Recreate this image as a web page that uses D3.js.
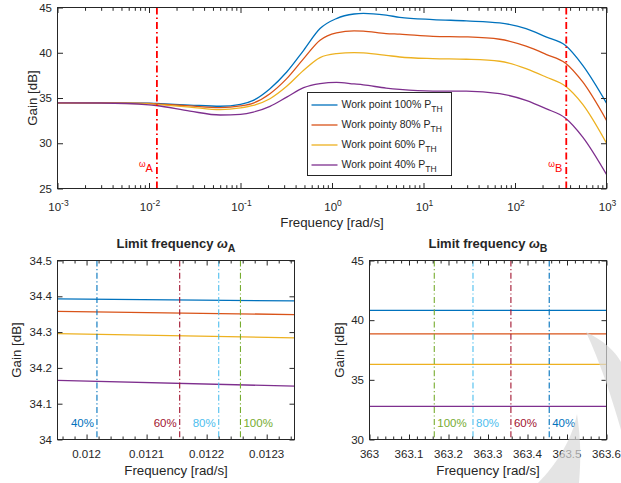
<!DOCTYPE html>
<html><head><meta charset="utf-8">
<script src="https://cdn.jsdelivr.net/npm/d3@7"></script>
<style>
body{margin:0;background:#fff}
text{font-family:"Liberation Sans",Arial,Helvetica,sans-serif;fill:#262626}
</style>
</head><body><script>
// ---------- DATA ----------
const freqTop = [0.001,0.003,0.01,0.012,0.028,0.06,0.1,0.138,0.21,0.32,0.49,0.74,1.12,1.74,2.2,3.9,5.5,12.7,29.4,68,132,218,357,550,1000];
const gain100 = [34.47,34.46,34.42,34.39,34.22,34.09,34.30,34.74,36.03,37.87,40.27,42.67,43.78,44.28,44.35,44.15,43.92,43.67,43.52,43.30,42.67,41.75,40.80,38.61,34.44];
const gain80  = [34.47,34.46,34.40,34.356,34.12,33.93,34.12,34.44,35.48,37.14,39.35,41.38,42.19,42.41,42.38,42.12,42.05,41.82,41.75,41.49,40.72,39.83,38.85,36.77,32.53];
const gain60  = [34.47,34.45,34.36,34.29,34.00,33.71,33.90,34.18,34.92,36.29,38.06,39.47,39.90,40.02,39.98,39.72,39.53,39.35,39.28,39.06,38.25,37.32,36.30,34.30,30.01];
const gain40  = [34.47,34.45,34.25,34.17,33.55,33.12,33.20,33.44,34.08,35.10,36.14,36.59,36.73,36.55,36.45,36.10,35.95,35.77,35.77,35.48,34.74,33.82,32.77,30.68,26.55];
const seriesLabels = ["Work point 100% P","Work pointy 80% P","Work point 60% P","Work point 40% P"];
const seriesSub = "TH";
const seriesColors = ["#0072BD","#D95319","#EDB120","#7E2F8E"];

const topXTicks = [1e-3,1e-2,1e-1,1,10,100,1000];
const topXExp = ["-3","-2","-1","0","1","2","3"];
const topYTicks = [25,30,35,40,45];
const omegaA = 0.0122, omegaB = 363.3;
const omegaLabels = ["A","B"];

// zoom A
const freqA = [0.0119516, 0.0123463];
const zoomA100 = [34.393, 34.387];
const zoomA80  = [34.358, 34.349];
const zoomA60  = [34.296, 34.284];
const zoomA40  = [34.165, 34.149];
const limitA = [0.0120173, 0.0121551, 0.0122201, 0.0122563];
const limitALabels = ["40%","60%","80%","100%"];
const aXTicks = [0.012, 0.0121, 0.0122, 0.0123];
const aXTickLabels = ["0.012","0.0121","0.0122","0.0123"];
const aYTicks = [34, 34.1, 34.2, 34.3, 34.4, 34.5];
const aYTickLabels = ["34","34.1","34.2","34.3","34.4","34.5"];

// zoom B
const freqB = [363, 363.6];
const zoomB100 = [40.82, 40.82];
const zoomB80  = [38.85, 38.85];
const zoomB60  = [36.30, 36.30];
const zoomB40  = [32.77, 32.77];
const limitB = [363.164, 363.262, 363.358, 363.455];
const limitBLabels = ["100%","80%","60%","40%"];
const bXTicks = [363, 363.1, 363.2, 363.3, 363.4, 363.5, 363.6];
const bXTickLabels = ["363","363.1","363.2","363.3","363.4","363.5","363.6"];
const bYTicks = [30, 35, 40, 45];
const bYTickLabels = ["30","35","40","45"];

const limitColor = {"40%":"#0072BD","60%":"#A2142F","80%":"#4DBEEE","100%":"#77AC30"};

// ---------- DRAW ----------
const svg = d3.select("body").append("svg").attr("width",621).attr("height",483);
const AX = "#262626";
const TICKFS = 11.5, LABFS = 13.3;

function ticks(g, x, y, xMajor, xMinor, yMajor, lenMaj, lenMin) {
  const [x0,x1] = x.range(), [y0,y1] = y.range();
  const mk = (axisFn, scale, vals, len, tr) => {
    const a = g.append("g").attr("transform",tr)
      .call(axisFn(scale).tickValues(vals).tickSizeInner(-len).tickSizeOuter(0).tickFormat(""));
    a.select(".domain").remove();
    a.selectAll("line").attr("stroke",AX).attr("stroke-width",1);
  };
  mk(d3.axisBottom, x, xMajor, lenMaj, `translate(0,${y0})`);
  mk(d3.axisTop, x, xMajor, lenMaj, `translate(0,${y1})`);
  if (xMinor.length) {
    mk(d3.axisBottom, x, xMinor, lenMin, `translate(0,${y0})`);
    mk(d3.axisTop, x, xMinor, lenMin, `translate(0,${y1})`);
  }
  mk(d3.axisLeft, y, yMajor, lenMaj, `translate(${x0},0)`);
  mk(d3.axisRight, y, yMajor, lenMaj, `translate(${x1},0)`);
}
function box(g, x, y) {
  const [x0,x1] = x.range(), [y0,y1] = y.range();
  g.append("rect").attr("x",x0).attr("y",y1).attr("width",x1-x0).attr("height",y0-y1)
    .attr("fill","none").attr("stroke",AX).attr("stroke-width",1);
}
function linearMinor(scale, step, n) {
  const [a,b] = scale.domain(), out = [];
  const s = step/n;
  for (let v = Math.ceil(a/s - 1e-9)*s; v <= b + 1e-12; v += s) {
    const r = v/step;
    if (Math.abs(r - Math.round(r)) > 1e-6) out.push(v);
  }
  return out;
}

// ===== Top chart =====
const xT = d3.scaleLog().domain([1e-3,1e3]).range([57.5,606.5]);
const yT = d3.scaleLinear().domain([25,45]).range([188.5,7.5]);
const gT = svg.append("g");
const minorT = [];
for (let d=-3; d<3; d++) for (let k=2;k<10;k++) minorT.push(k*Math.pow(10,d));

svg.append("clipPath").attr("id","clipT").append("rect")
  .attr("x",57.5).attr("y",7.5).attr("width",549).attr("height",181);

const topSeries = [gain100, gain80, gain60, gain40];
const lineT = d3.line().x(d=>xT(d[0])).y(d=>yT(d[1])).curve(d3.curveMonotoneX);
topSeries.forEach((s,i)=>{
  gT.append("path").attr("d", lineT(freqTop.map((f,j)=>[f,s[j]])))
    .attr("fill","none").attr("stroke",seriesColors[i]).attr("stroke-width",1.3)
    .attr("clip-path","url(#clipT)");
});
[omegaA, omegaB].forEach((w,i)=>{
  gT.append("line").attr("x1",xT(w)).attr("x2",xT(w)).attr("y1",yT(45)).attr("y2",yT(25))
    .attr("stroke","#FF0000").attr("stroke-width",1.8).attr("stroke-dasharray","7,3,1.5,3");
  const t = gT.append("text").attr("x",xT(w)-4).attr("y",yT(25)-22).attr("text-anchor","end")
    .style("fill","#FF0000");
  t.append("tspan").text("ω").attr("font-size",8.5);
  t.append("tspan").text(omegaLabels[i]).attr("font-size",11).attr("dy",5);
});
ticks(gT, xT, yT, topXTicks, minorT, topYTicks, 5.5, 3.3);
box(gT, xT, yT);

topXTicks.forEach((v,i)=>{
  const t = gT.append("text").attr("x",xT(v)+1).attr("y",211).attr("text-anchor","middle").attr("font-size",TICKFS);
  t.append("tspan").text("10");
  t.append("tspan").text(topXExp[i]).attr("font-size",8.5).attr("dy",-5);
});
topYTicks.forEach(v=>{
  gT.append("text").attr("x",52).attr("y",yT(v)+4).attr("text-anchor","end").attr("font-size",TICKFS).text(v);
});
gT.append("text").attr("x",(57.5+606.5)/2).attr("y",227).attr("text-anchor","middle").attr("font-size",LABFS).text("Frequency [rad/s]");
gT.append("text").attr("transform",`translate(37,${(7.5+188.5)/2}) rotate(-90)`).attr("text-anchor","middle").attr("font-size",LABFS).text("Gain [dB]");

// legend
const lg = gT.append("g");
lg.append("rect").attr("x",307.5).attr("y",92.5).attr("width",144).attr("height",83)
  .attr("fill","#fff").attr("stroke",AX).attr("stroke-width",1);
seriesLabels.forEach((lab,i)=>{
  const yy = 105 + i*20;
  lg.append("line").attr("x1",311.5).attr("x2",337.5).attr("y1",yy).attr("y2",yy)
    .attr("stroke",seriesColors[i]).attr("stroke-width",1.3);
  const t = lg.append("text").attr("x",341.5).attr("y",yy+2.5).attr("font-size",10.5);
  t.append("tspan").text(lab);
  t.append("tspan").text(seriesSub).attr("font-size",8.5).attr("dy",4.5);
});

// ===== Zoom charts =====
function zoomChart(opts) {
  const g = svg.append("g");
  const x = d3.scaleLinear().domain(opts.xDomain).range(opts.xRange);
  const y = d3.scaleLinear().domain(opts.yDomain).range([439.5,260.5]);
  const line = d3.line().x(d=>x(d[0])).y(d=>y(d[1]));
  opts.series.forEach((s,i)=>{
    g.append("path").attr("d", line(opts.freq.map((f,j)=>[f,s[j]])))
      .attr("fill","none").attr("stroke",seriesColors[i]).attr("stroke-width",1.3);
  });
  opts.limits.forEach((v,i)=>{
    const lab = opts.limitLabels[i], c = limitColor[lab];
    g.append("line").attr("x1",x(v)).attr("x2",x(v)).attr("y1",260.5).attr("y2",439.5)
      .attr("stroke",c).attr("stroke-width",1.1).attr("stroke-dasharray","6,2.5,1.2,2.5");
    const right = opts.labelRight(i);
    g.append("text").attr("x",x(v)+(right?3:-3)).attr("y",427)
      .attr("text-anchor",right?"start":"end").attr("font-size",TICKFS).style("fill",c).text(lab);
  });
  ticks(g, x, y, opts.xTicks, linearMinor(x, opts.xStep, 5), opts.yTicks, 5, 3);
  box(g, x, y);
  opts.xTicks.forEach((v,i)=>{
    g.append("text").attr("x",x(v)).attr("y",457.5).attr("text-anchor","middle").attr("font-size",TICKFS).text(opts.xTickLabels[i]);
  });
  opts.yTicks.forEach((v,i)=>{
    g.append("text").attr("x",opts.xRange[0]-5.5).attr("y",y(v)+4).attr("text-anchor","end").attr("font-size",TICKFS).text(opts.yTickLabels[i]);
  });
  const cx = (opts.xRange[0]+opts.xRange[1])/2;
  g.append("text").attr("x",cx).attr("y",475).attr("text-anchor","middle").attr("font-size",LABFS).text("Frequency [rad/s]");
  g.append("text").attr("transform",`translate(${opts.yLabelX},350) rotate(-90)`).attr("text-anchor","middle").attr("font-size",LABFS).text("Gain [dB]");
  const t = g.append("text").attr("x",cx).attr("y",248).attr("text-anchor","middle").attr("font-size",13).attr("font-weight","bold");
  t.append("tspan").text("Limit frequency ");
  t.append("tspan").text("ω").attr("font-style","italic");
  t.append("tspan").text(opts.sub).attr("font-size",10.5).attr("dy",4);
}

zoomChart({xDomain:[freqA[0],freqA[1]], xRange:[57.5,294.5], yDomain:[34,34.5], freq:freqA,
  series:[zoomA100,zoomA80,zoomA60,zoomA40], limits:limitA, limitLabels:limitALabels,
  labelRight:i=>limitALabels[i]==="100%", xTicks:aXTicks, xTickLabels:aXTickLabels, xStep:0.0001,
  yTicks:aYTicks, yTickLabels:aYTickLabels, yLabelX:21, sub:"A"});
zoomChart({xDomain:[freqB[0],freqB[1]], xRange:[369.5,606.5], yDomain:[30,45], freq:freqB,
  series:[zoomB100,zoomB80,zoomB60,zoomB40], limits:limitB, limitLabels:limitBLabels,
  labelRight:i=>true, xTicks:bXTicks, xTickLabels:bXTickLabels, xStep:0.1,
  yTicks:bYTicks, yTickLabels:bYTickLabels, yLabelX:344, sub:"B"});

// faint watermark shape (decoration in the reference)
const wm = svg.append("g").attr("fill","#d9d9d9").attr("fill-opacity",0.7).attr("stroke","none");
wm.append("path").attr("d","M586,332 C603,340 616,352 621,362 L621,430 C612,398 600,362 586,332 Z");
wm.append("path").attr("d","M577,414 C572,440 556,465 538,483 L579,483 C581,460 581,440 577,414 Z");
</script></body></html>
